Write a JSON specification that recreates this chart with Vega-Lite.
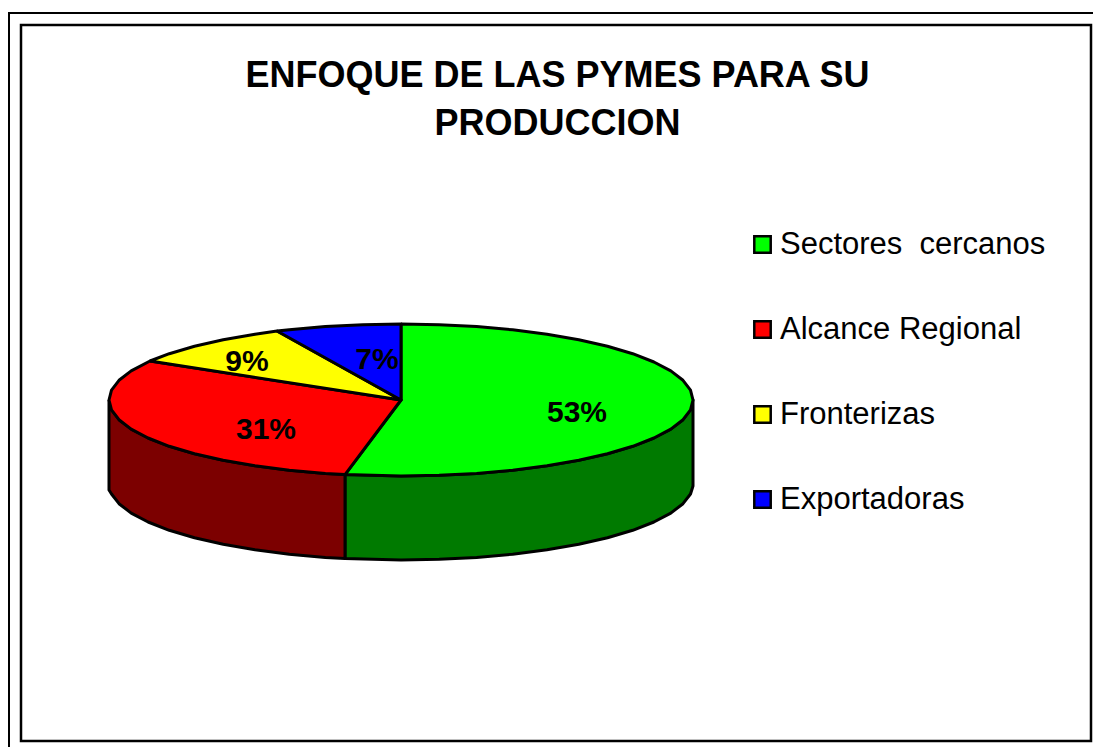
{"$schema":"https://vega.github.io/schema/vega-lite/v6.json","width":1093,"height":747,"padding":0,"autosize":{"type":"none"},"background":"white","config":{"view":{"stroke":null}},
"title":{"text":["ENFOQUE DE LAS PYMES PARA SU","PRODUCCION"],"font":"Liberation Sans","fontSize":36,"fontWeight":"bold","color":"black","anchor":"middle","frame":"group","dx":11,"dy":147,"lineHeight":48},
"datasets":{
"frame":[{"part":"outer-top","x":8,"x2":1093,"y":13,"y2":13},{"part":"outer-left","x":9,"x2":9,"y":13,"y2":747}],
"panel":[{"x":21,"x2":1091,"y":25,"y2":741}],
"walls":[
{"wall":"Sectores cercanos","o":1,"x":345,"y":474.6},{"wall":"Sectores cercanos","o":2,"x":401,"y":476},{"wall":"Sectores cercanos","o":3,"x":439.1,"y":475.3},{"wall":"Sectores cercanos","o":4,"x":476.6,"y":473.4},{"wall":"Sectores cercanos","o":5,"x":512.7,"y":470.2},{"wall":"Sectores cercanos","o":6,"x":547,"y":465.8},{"wall":"Sectores cercanos","o":7,"x":578.8,"y":460.3},{"wall":"Sectores cercanos","o":8,"x":607.5,"y":453.7},{"wall":"Sectores cercanos","o":9,"x":632.7,"y":446.3},{"wall":"Sectores cercanos","o":10,"x":653.9,"y":438},{"wall":"Sectores cercanos","o":11,"x":670.8,"y":429.1},{"wall":"Sectores cercanos","o":12,"x":683,"y":419.7},{"wall":"Sectores cercanos","o":13,"x":690.5,"y":409.9},{"wall":"Sectores cercanos","o":14,"x":693,"y":400},{"wall":"Sectores cercanos","o":15,"x":693,"y":486},{"wall":"Sectores cercanos","o":16,"x":690.5,"y":494},{"wall":"Sectores cercanos","o":17,"x":683,"y":503.7},{"wall":"Sectores cercanos","o":18,"x":670.8,"y":513.1},{"wall":"Sectores cercanos","o":19,"x":653.9,"y":522},{"wall":"Sectores cercanos","o":20,"x":632.7,"y":530.3},{"wall":"Sectores cercanos","o":21,"x":607.5,"y":537.7},{"wall":"Sectores cercanos","o":22,"x":578.8,"y":544.3},{"wall":"Sectores cercanos","o":23,"x":547,"y":549.8},{"wall":"Sectores cercanos","o":24,"x":512.7,"y":554.2},{"wall":"Sectores cercanos","o":25,"x":476.6,"y":557.4},{"wall":"Sectores cercanos","o":26,"x":439.1,"y":559.3},{"wall":"Sectores cercanos","o":27,"x":401,"y":560},{"wall":"Sectores cercanos","o":28,"x":345,"y":558.6},{"wall":"Sectores cercanos","o":29,"x":345,"y":474.6},
{"wall":"Alcance Regional","o":1,"x":109,"y":400},{"wall":"Alcance Regional","o":2,"x":111.5,"y":409.9},{"wall":"Alcance Regional","o":3,"x":119,"y":419.7},{"wall":"Alcance Regional","o":4,"x":131.2,"y":429.1},{"wall":"Alcance Regional","o":5,"x":148.1,"y":438},{"wall":"Alcance Regional","o":6,"x":169.3,"y":446.3},{"wall":"Alcance Regional","o":7,"x":194.5,"y":453.7},{"wall":"Alcance Regional","o":8,"x":223.2,"y":460.3},{"wall":"Alcance Regional","o":9,"x":255,"y":465.8},{"wall":"Alcance Regional","o":10,"x":289.3,"y":470.2},{"wall":"Alcance Regional","o":11,"x":325.4,"y":473.4},{"wall":"Alcance Regional","o":12,"x":345,"y":474.6},{"wall":"Alcance Regional","o":13,"x":345,"y":558.6},{"wall":"Alcance Regional","o":14,"x":325.4,"y":557.4},{"wall":"Alcance Regional","o":15,"x":289.3,"y":554.2},{"wall":"Alcance Regional","o":16,"x":255,"y":549.8},{"wall":"Alcance Regional","o":17,"x":223.2,"y":544.3},{"wall":"Alcance Regional","o":18,"x":194.5,"y":537.7},{"wall":"Alcance Regional","o":19,"x":169.3,"y":530.3},{"wall":"Alcance Regional","o":20,"x":148.1,"y":522},{"wall":"Alcance Regional","o":21,"x":131.2,"y":513.1},{"wall":"Alcance Regional","o":22,"x":119,"y":503.7},{"wall":"Alcance Regional","o":23,"x":111.5,"y":494},{"wall":"Alcance Regional","o":24,"x":109,"y":490},{"wall":"Alcance Regional","o":25,"x":109,"y":400}],
"top":[
{"slice":"Sectores cercanos","o":1,"x":401,"y":324},{"slice":"Sectores cercanos","o":2,"x":439.1,"y":324.7},{"slice":"Sectores cercanos","o":3,"x":476.6,"y":326.6},{"slice":"Sectores cercanos","o":4,"x":512.7,"y":329.8},{"slice":"Sectores cercanos","o":5,"x":547,"y":334.2},{"slice":"Sectores cercanos","o":6,"x":578.8,"y":339.7},{"slice":"Sectores cercanos","o":7,"x":607.5,"y":346.3},{"slice":"Sectores cercanos","o":8,"x":632.7,"y":353.7},{"slice":"Sectores cercanos","o":9,"x":653.9,"y":362},{"slice":"Sectores cercanos","o":10,"x":670.8,"y":370.9},{"slice":"Sectores cercanos","o":11,"x":683,"y":380.3},{"slice":"Sectores cercanos","o":12,"x":690.5,"y":390.1},{"slice":"Sectores cercanos","o":13,"x":693,"y":400},{"slice":"Sectores cercanos","o":14,"x":690.5,"y":409.9},{"slice":"Sectores cercanos","o":15,"x":683,"y":419.7},{"slice":"Sectores cercanos","o":16,"x":670.8,"y":429.1},{"slice":"Sectores cercanos","o":17,"x":653.9,"y":438},{"slice":"Sectores cercanos","o":18,"x":632.7,"y":446.3},{"slice":"Sectores cercanos","o":19,"x":607.5,"y":453.7},{"slice":"Sectores cercanos","o":20,"x":578.8,"y":460.3},{"slice":"Sectores cercanos","o":21,"x":547,"y":465.8},{"slice":"Sectores cercanos","o":22,"x":512.7,"y":470.2},{"slice":"Sectores cercanos","o":23,"x":476.6,"y":473.4},{"slice":"Sectores cercanos","o":24,"x":439.1,"y":475.3},{"slice":"Sectores cercanos","o":25,"x":401,"y":476},{"slice":"Sectores cercanos","o":26,"x":345,"y":474.6},{"slice":"Sectores cercanos","o":27,"x":401,"y":400},{"slice":"Sectores cercanos","o":28,"x":401,"y":324},
{"slice":"Alcance Regional","o":1,"x":345,"y":474.6},{"slice":"Alcance Regional","o":2,"x":325.4,"y":473.4},{"slice":"Alcance Regional","o":3,"x":289.3,"y":470.2},{"slice":"Alcance Regional","o":4,"x":255,"y":465.8},{"slice":"Alcance Regional","o":5,"x":223.2,"y":460.3},{"slice":"Alcance Regional","o":6,"x":194.5,"y":453.7},{"slice":"Alcance Regional","o":7,"x":169.3,"y":446.3},{"slice":"Alcance Regional","o":8,"x":148.1,"y":438},{"slice":"Alcance Regional","o":9,"x":131.2,"y":429.1},{"slice":"Alcance Regional","o":10,"x":119,"y":419.7},{"slice":"Alcance Regional","o":11,"x":111.5,"y":409.9},{"slice":"Alcance Regional","o":12,"x":109,"y":400},{"slice":"Alcance Regional","o":13,"x":111.5,"y":390.1},{"slice":"Alcance Regional","o":14,"x":119,"y":380.3},{"slice":"Alcance Regional","o":15,"x":131.2,"y":370.9},{"slice":"Alcance Regional","o":16,"x":150,"y":361},{"slice":"Alcance Regional","o":17,"x":401,"y":400},{"slice":"Alcance Regional","o":18,"x":345,"y":474.6},
{"slice":"Fronterizas","o":1,"x":150,"y":361},{"slice":"Fronterizas","o":2,"x":169.3,"y":353.7},{"slice":"Fronterizas","o":3,"x":194.5,"y":346.3},{"slice":"Fronterizas","o":4,"x":223.2,"y":339.7},{"slice":"Fronterizas","o":5,"x":255,"y":334.2},{"slice":"Fronterizas","o":6,"x":277,"y":331},{"slice":"Fronterizas","o":7,"x":401,"y":400},{"slice":"Fronterizas","o":8,"x":150,"y":361},
{"slice":"Exportadoras","o":1,"x":277,"y":331},{"slice":"Exportadoras","o":2,"x":289.3,"y":329.8},{"slice":"Exportadoras","o":3,"x":325.4,"y":326.6},{"slice":"Exportadoras","o":4,"x":362.9,"y":324.7},{"slice":"Exportadoras","o":5,"x":401,"y":324},{"slice":"Exportadoras","o":6,"x":401,"y":400},{"slice":"Exportadoras","o":7,"x":277,"y":331}],
"labels":[{"slice":"Sectores cercanos","pct":0.53,"x":577,"y":413},{"slice":"Alcance Regional","pct":0.31,"x":266,"y":430},{"slice":"Fronterizas","pct":0.09,"x":247,"y":362},{"slice":"Exportadoras","pct":0.07,"x":377,"y":360}]
},
"layer":[
{"data":{"name":"frame"},"mark":{"type":"rule","color":"black","strokeWidth":2},"encoding":{"x":{"field":"x","type":"quantitative","scale":{"domain":[0,1093],"nice":false},"axis":null},"x2":{"field":"x2"},"y":{"field":"y","type":"quantitative","scale":{"domain":[747,0],"nice":false},"axis":null},"y2":{"field":"y2"}}},
{"data":{"name":"panel"},"mark":{"type":"rect","fill":"white","stroke":"black","strokeWidth":2.5},"encoding":{"x":{"field":"x","type":"quantitative"},"x2":{"field":"x2"},"y":{"field":"y","type":"quantitative"},"y2":{"field":"y2"}}},
{"data":{"name":"walls"},"transform":[{"filter":"datum.wall === 'Sectores cercanos'"}],"mark":{"type":"line","fill":"#007a00","stroke":"black","strokeWidth":3,"strokeJoin":"round"},"encoding":{"x":{"field":"x","type":"quantitative"},"y":{"field":"y","type":"quantitative"},"order":{"field":"o","type":"quantitative"}}},
{"data":{"name":"walls"},"transform":[{"filter":"datum.wall === 'Alcance Regional'"}],"mark":{"type":"line","fill":"#7c0000","stroke":"black","strokeWidth":3,"strokeJoin":"round"},"encoding":{"x":{"field":"x","type":"quantitative"},"y":{"field":"y","type":"quantitative"},"order":{"field":"o","type":"quantitative"}}},
{"data":{"name":"top"},"mark":{"type":"line","stroke":"black","strokeWidth":3,"strokeJoin":"round"},"encoding":{"x":{"field":"x","type":"quantitative"},"y":{"field":"y","type":"quantitative"},"order":{"field":"o","type":"quantitative"},"detail":{"field":"slice"},
"fill":{"field":"slice","type":"nominal","scale":{"domain":["Sectores cercanos","Alcance Regional","Fronterizas","Exportadoras"],"range":["#00ff00","#ff0000","#ffff00","#0000ff"]},
"legend":{"title":null,"orient":"none","legendX":747,"legendY":228,"symbolType":"square","symbolSize":270,"symbolStrokeColor":"black","symbolStrokeWidth":2.5,"symbolOpacity":1,"labelFont":"Liberation Sans","labelFontSize":31,"labelColor":"black","labelOffset":2,"labelLimit":400,"rowPadding":52,"clipHeight":33,"labelExpr":"datum.label === 'Sectores cercanos' ? 'Sectores\u00a0 cercanos' : datum.label"}}}},
{"data":{"name":"labels"},"mark":{"type":"text","font":"Liberation Sans","fontSize":30,"fontWeight":"bold","color":"black","align":"center","baseline":"middle"},"encoding":{"x":{"field":"x","type":"quantitative"},"y":{"field":"y","type":"quantitative"},"text":{"field":"pct","type":"quantitative","format":".0%"}}}
]}
